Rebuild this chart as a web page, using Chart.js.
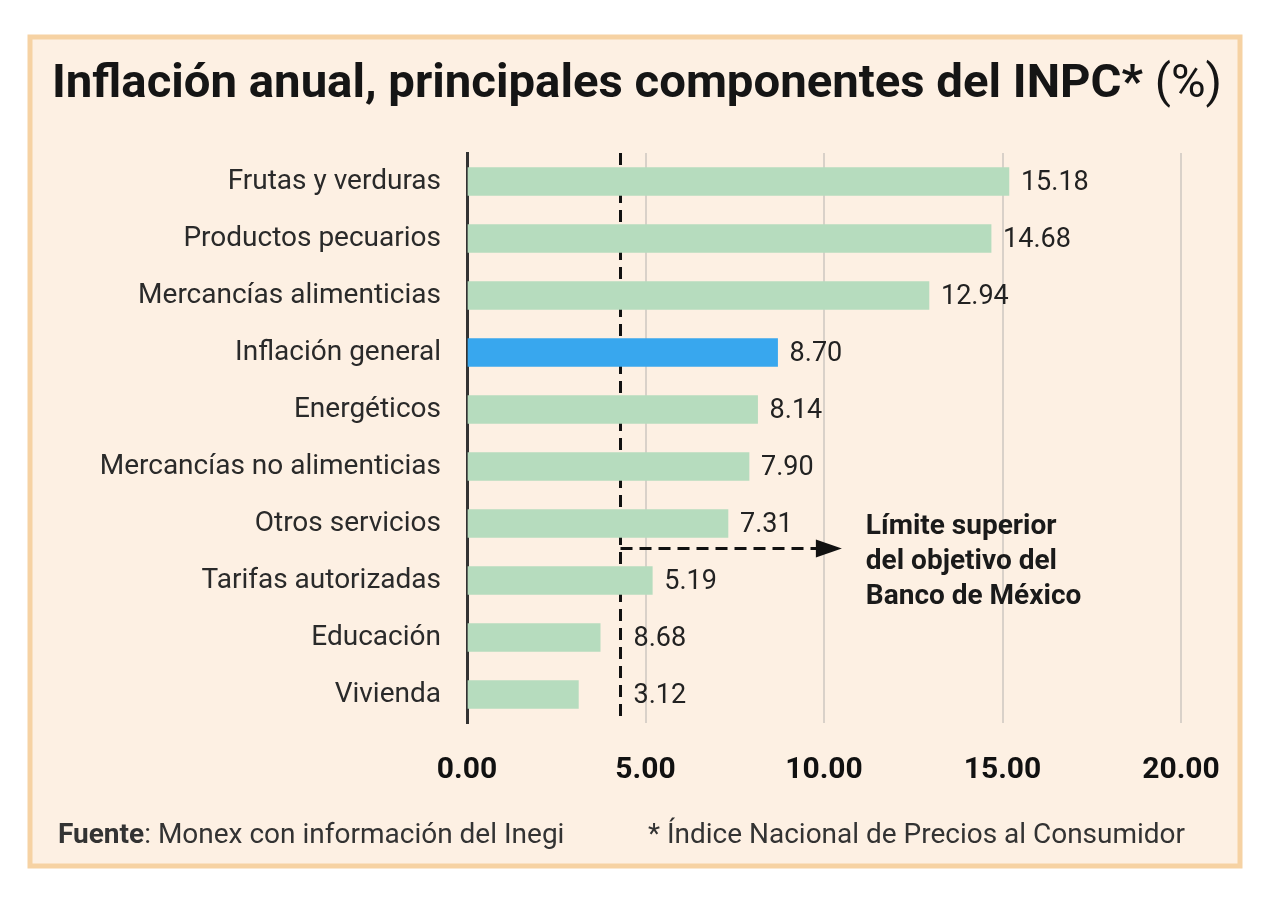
<!DOCTYPE html>
<html>
<head>
<meta charset="utf-8">
<script src="https://cdn.jsdelivr.net/npm/chart.js@4"></script>
<style>
  html, body { margin: 0; padding: 0; background: #fff; }
  #wrap { width: 1280px; height: 903px; }
</style>
</head>
<body>
<div id="wrap"><canvas id="chart" width="1280" height="903"></canvas></div>
<script>
const categorias = ['Frutas y verduras', 'Productos pecuarios', 'Mercancías alimenticias', 'Inflación general',
    'Energéticos', 'Mercancías no alimenticias', 'Otros servicios', 'Tarifas autorizadas', 'Educación', 'Vivienda'];
const valores = [15.18, 14.68, 12.94, 8.70, 8.14, 7.90, 7.31, 5.19, 3.73, 3.12];
const etiquetas = ['15.18', '14.68', '12.94', '8.70', '8.14', '7.90', '7.31', '5.19', '8.68', '3.12'];
const ticksX = [0, 5, 10, 15, 20];
const limiteBanxico = 4.3;
const notaLineas = ['Límite superior', 'del objetivo del', 'Banco de México'];

const FONT = 'Roboto, "Noto Sans", sans-serif';
const verde = '#b6dcbe';
const azul = '#38a7ee';

// texto con ancho máximo (la tipografía original es condensada)
function textoAjustado(ctx, txt, x, y, maxW) {
    const w = ctx.measureText(txt).width;
    if (w > maxW) {
        ctx.save();
        ctx.translate(x, y);
        ctx.scale(maxW / w, 1);
        ctx.fillText(txt, 0, 0);
        ctx.restore();
        return maxW;
    }
    ctx.fillText(txt, x, y);
    return w;
}

const marco = {
    id: 'marco',
    beforeDraw(chart) {
        const ctx = chart.ctx;
        ctx.save();
        ctx.fillStyle = '#fff';
        ctx.fillRect(0, 0, chart.width, chart.height);
        ctx.fillStyle = '#fdf0e3';
        ctx.fillRect(30, 37, 1210, 829);
        ctx.strokeStyle = '#f6d2a3';
        ctx.lineWidth = 5;
        ctx.strokeRect(30, 37, 1210, 829);

        // título
        ctx.fillStyle = '#151515';
        ctx.textBaseline = 'alphabetic';
        const t1 = 'Inflación anual, principales componentes del INPC*';
        const t2 = ' (%)';
        ctx.font = 'bold 47px ' + FONT;
        const w1 = ctx.measureText(t1).width;
        ctx.font = '47px ' + FONT;
        const w2 = ctx.measureText(t2).width;
        const escala = 1170 / (w1 + w2);
        ctx.translate(52, 97);
        ctx.scale(escala, 1);
        ctx.font = 'bold 47px ' + FONT;
        ctx.fillText(t1, 0, 0);
        ctx.font = '47px ' + FONT;
        ctx.fillText(t2, w1, 0);
        ctx.restore();

        // pie
        ctx.save();
        ctx.fillStyle = '#333';
        ctx.textBaseline = 'middle';
        ctx.font = 'bold 28px ' + FONT;
        const f = 'Fuente';
        ctx.fillText(f, 58, 836);
        const wf = ctx.measureText(f).width;
        ctx.font = '28px ' + FONT;
        textoAjustado(ctx, ': Monex con información del Inegi', 58 + wf, 836, 570 - 58 - wf);
        textoAjustado(ctx, '* Índice Nacional de Precios al Consumidor', 648, 836, 1185 - 648);
        ctx.restore();
    }
};

const limite = {
    id: 'limite',
    beforeDatasetsDraw(chart) {
        const ctx = chart.ctx, x = chart.scales.x, a = chart.chartArea;
        const px = x.getPixelForValue(limiteBanxico);
        ctx.save();
        ctx.strokeStyle = '#111';
        ctx.lineWidth = 3;
        ctx.setLineDash([12, 7]);
        ctx.beginPath();
        ctx.moveTo(px, a.top);
        ctx.lineTo(px, a.bottom);
        ctx.stroke();
        ctx.restore();
    },
    afterDatasetsDraw(chart) {
        const ctx = chart.ctx, x = chart.scales.x, y = chart.scales.y;
        const px = x.getPixelForValue(limiteBanxico);
        const meta = chart.getDatasetMeta(0);

        // etiquetas de valor
        ctx.save();
        ctx.fillStyle = '#222';
        ctx.font = '27px ' + FONT;
        ctx.textBaseline = 'middle';
        meta.data.forEach((bar, i) => {
            const lx = Math.max(bar.x + 12, px + 13);
            textoAjustado(ctx, etiquetas[i], lx, bar.y + 2, 80);
        });

        // flecha
        const ay = y.getPixelForValue(6.44);
        const punta = x.getPixelForValue(10.5);
        ctx.strokeStyle = '#111';
        ctx.lineWidth = 3;
        ctx.setLineDash([12, 7]);
        ctx.beginPath();
        ctx.moveTo(px, ay);
        ctx.lineTo(punta - 22, ay);
        ctx.stroke();
        ctx.setLineDash([]);
        ctx.fillStyle = '#111';
        ctx.beginPath();
        ctx.moveTo(punta, ay);
        ctx.lineTo(punta - 26, ay - 9);
        ctx.lineTo(punta - 26, ay + 9);
        ctx.closePath();
        ctx.fill();

        // nota
        ctx.fillStyle = '#1a1a1a';
        ctx.font = 'bold 28px ' + FONT;
        notaLineas.forEach((l, i) => {
            textoAjustado(ctx, l, punta + 24, ay - 22 + i * 35, 226);
        });
        ctx.restore();
    }
};

new Chart(document.getElementById('chart').getContext('2d'), {
    type: 'bar',
    data: {
        labels: categorias,
        datasets: [{
            data: valores,
            backgroundColor: categorias.map(c => c === 'Inflación general' ? azul : verde),
            barThickness: 28,
            borderWidth: 0
        }]
    },
    options: {
        indexAxis: 'y',
        responsive: false,
        animation: false,
        events: [],
        layout: { padding: { top: 153, right: 99, left: 0, bottom: 0 } },
        plugins: { legend: { display: false }, title: { display: false }, tooltip: { enabled: false } },
        scales: {
            x: {
                min: 0, max: 20,
                afterBuildTicks: s => { s.ticks = ticksX.map(v => ({ value: v })); },
                afterFit: s => { s.height = 180; },
                border: { display: false },
                grid: {
                    drawTicks: false,
                    lineWidth: 2,
                    color: c => c.tick && c.tick.value === 0 ? 'rgba(0,0,0,0)' : '#d9d1c9'
                },
                ticks: {
                    padding: 29,
                    color: '#111',
                    font: { family: FONT, size: 30, weight: 'bold' },
                    callback: v => v.toFixed(2)
                }
            },
            y: {
                afterFit: s => { s.width = 467; },
                border: { display: true, color: '#333', width: 3 },
                grid: { display: false, drawTicks: false },
                ticks: {
                    padding: 26,
                    color: '#2a2a2a',
                    font: { family: FONT, size: 28 }
                }
            }
        }
    },
    plugins: [marco, limite]
});
</script>
</body>
</html>
